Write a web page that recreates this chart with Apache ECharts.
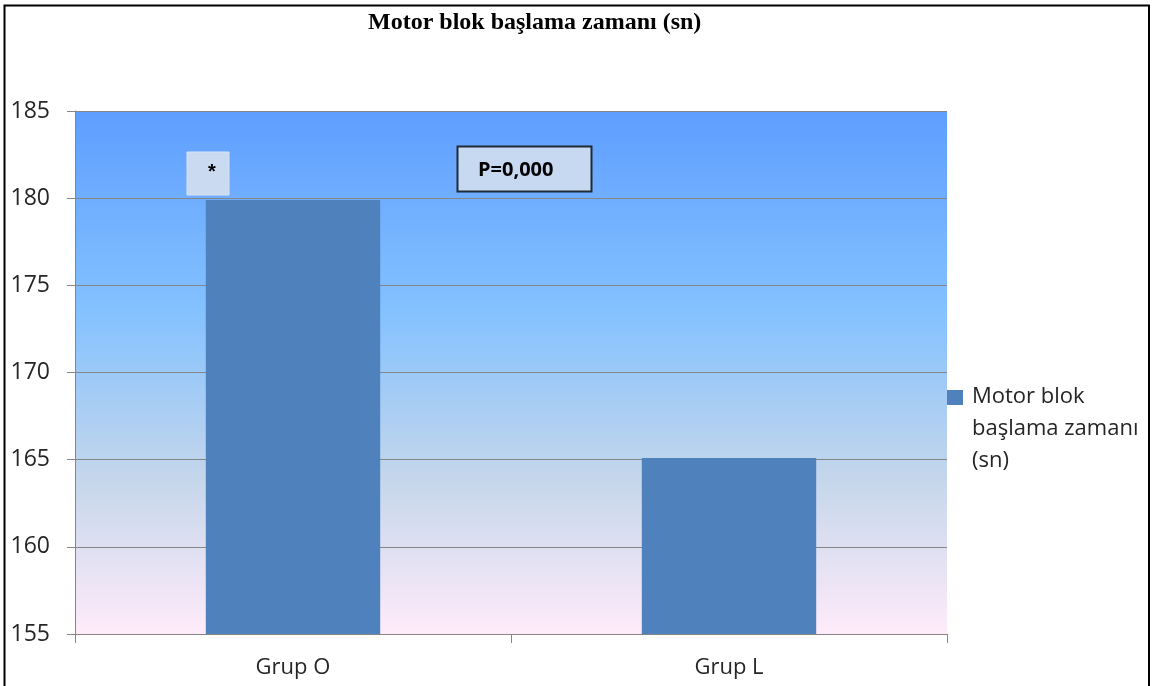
<!DOCTYPE html>
<html>
<head>
<meta charset="utf-8">
<script src="https://cdn.jsdelivr.net/npm/echarts@6/dist/echarts.min.js"></script>
<style>
  html, body { margin: 0; padding: 0; background: #fff; }
  #chart { width: 1153px; height: 686px; }
</style>
</head>
<body>
<div id="chart"></div>
<script>
// data
const categories = ['Grup O', 'Grup L']
const seriesName = 'Motor blok\nbaşlama zamanı\n(sn)'
const values = [179.9, 165.1]
const yTicks = { min: 155, max: 185, interval: 5 }
const titleText = 'Motor blok başlama zamanı (sn)'
const pText = 'P=0,000'
const starText = '*'

const chart = echarts.init(document.getElementById('chart'))

const barColor = '#4F81BD'

// Excel "Daybreak" style fill behind the bars
const plotFill = new echarts.graphic.LinearGradient(0, 0, 0, 1, [
  { offset: 0, color: '#5E9EFF' },
  { offset: 0.39, color: '#85C2FF' },
  { offset: 0.7, color: '#C4D6EB' },
  { offset: 1, color: '#FFEBFA' }
])

const labelFont = '"Open Sans", "Noto Sans", sans-serif'

const option = {
  animation: false,
  backgroundColor: '#fff',
  title: {
    text: titleText,
    left: 368,
    top: 11,
    padding: 0,
    textStyle: {
      fontFamily: '"Liberation Serif", "DejaVu Serif", serif',
      fontWeight: 'bold',
      fontSize: 24,
      color: '#000'
    }
  },
  grid: {
    left: 75,
    right: 206,
    top: 111,
    bottom: 52,
    show: true,
    borderWidth: 0,
    backgroundColor: plotFill
  },
  xAxis: {
    type: 'category',
    data: categories,
    axisLine: { lineStyle: { color: '#868686', width: 1 } },
    axisTick: { show: true, length: 9, lineStyle: { color: '#868686' } },
    axisLabel: {
      margin: 23,
      fontFamily: labelFont,
      fontSize: 22,
      color: '#262626'
    }
  },
  yAxis: {
    type: 'value',
    min: yTicks.min,
    max: yTicks.max,
    interval: yTicks.interval,
    axisLine: { show: true, lineStyle: { color: '#868686', width: 1 } },
    axisTick: { show: true, length: 8, lineStyle: { color: '#868686' } },
    splitLine: { show: true, lineStyle: { color: '#868686', width: 1 } },
    axisLabel: {
      margin: 25,
      fontFamily: labelFont,
      fontSize: 23,
      color: '#262626'
    }
  },
  series: [
    {
      name: seriesName,
      type: 'bar',
      barWidth: '40%',
      itemStyle: { color: barColor },
      data: values
    }
  ],
  graphic: [
    // outer frame of the picture
    {
      type: 'rect',
      shape: { x: 4.5, y: 5.5, width: 1144.5, height: 700 },
      style: { fill: 'none', stroke: '#000', lineWidth: 2 },
      z: 100
    },
    // legend (marker sits on the first text line, like the original)
    {
      type: 'rect',
      shape: { x: 947, y: 390, width: 16, height: 15 },
      style: { fill: barColor }
    },
    {
      type: 'text',
      x: 972,
      y: 381,
      style: {
        text: seriesName,
        fontFamily: labelFont,
        fontSize: 22,
        lineHeight: 32,
        fill: '#262626',
        align: 'left',
        verticalAlign: 'top'
      }
    },
    // star box
    {
      type: 'rect',
      shape: { x: 187, y: 152, width: 42, height: 43 },
      style: { fill: '#C9DAF1', stroke: '#D8E3F3', lineWidth: 1 },
      z: 50
    },
    {
      type: 'text',
      x: 212,
      y: 172,
      style: {
        text: starText,
        fontFamily: '"Liberation Sans", sans-serif',
        fontWeight: 'bold',
        fontSize: 20,
        fill: '#000',
        align: 'center',
        verticalAlign: 'middle'
      },
      z: 51
    },
    // p value box
    {
      type: 'rect',
      shape: { x: 457.5, y: 146.5, width: 134, height: 45 },
      style: { fill: '#C6D9F1', stroke: '#1F2A36', lineWidth: 2 },
      z: 50
    },
    {
      type: 'text',
      x: 478,
      y: 170,
      style: {
        text: pText,
        fontFamily: labelFont,
        fontWeight: 'bold',
        fontSize: 20,
        fill: '#000',
        align: 'left',
        verticalAlign: 'middle'
      },
      z: 51
    }
  ]
}

chart.setOption(option)
window.addEventListener('resize', () => chart.resize())
</script>
</body>
</html>
